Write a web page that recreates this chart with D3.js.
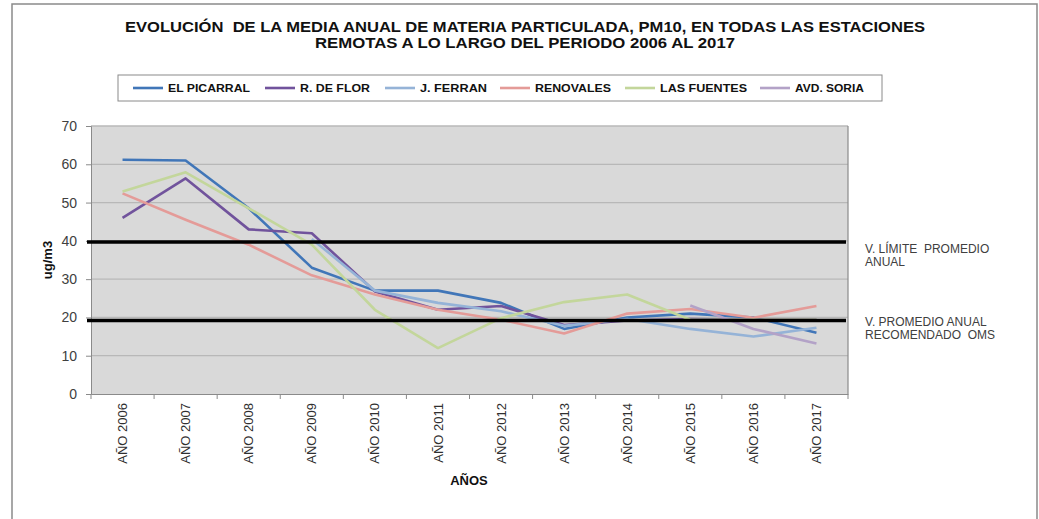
<!DOCTYPE html>
<html>
<head>
<meta charset="utf-8">
<script src="https://cdn.jsdelivr.net/npm/d3@7"></script>
<style>
  body { margin: 0; background: #fff; }
  svg { font-family: "Liberation Sans", Arial, sans-serif; }
  text { white-space: pre; }
</style>
</head>
<body>
<div id="chart"></div>
<script>
// datos
const years = ['AÑO 2006','AÑO 2007','AÑO 2008','AÑO 2009','AÑO 2010','AÑO 2011',
               'AÑO 2012','AÑO 2013','AÑO 2014','AÑO 2015','AÑO 2016','AÑO 2017'];
const stations = ['EL PICARRAL','R. DE FLOR','J. FERRAN','RENOVALES','LAS FUENTES','AVD. SORIA'];
const colors   = ['#4176b8','#71539c','#95b3d7','#e49b98','#c3d69b','#b3a2c7'];

const elPicarral = [61.2, 61, 48.5, 33, 27, 27, 23.8, 17, 20, 21, 20, 16];
const rDeFlor    = [46, 56.3, 43, 42, 26.8, 22, 23, 18, 19.2, 19.6, 19.4, 19.4];
const jFerran    = [null, null, null, 40.5, 27, 23.8, 21.6, 17.8, 19.6, 17, 15, 17.3];
const renovales  = [52.4, 45.5, 39, 31, 26, 22, 19.4, 15.8, 21, 22.2, 19.9, 23];
const lasFuentes = [52.9, 57.9, 48.5, 39, 22, 12, 19.8, 24, 26, 19.4, 19.4, 19.4];
const avdSoria   = [null, null, null, null, null, null, null, null, null, 23.1, 17, 13.2];
const seriesValues = [elPicarral, rDeFlor, jFerran, renovales, lasFuentes, avdSoria];

const yTicks = [0, 10, 20, 30, 40, 50, 60, 70];
// lineas de referencia (valor limite y recomendado OMS)
const refValues = [39.7, 19.2];
const refLabels = [['V. LÍMITE  PROMEDIO', 'ANUAL'], ['V. PROMEDIO ANUAL', 'RECOMENDADO  OMS']];

const width  = 1039;
const height = 519;
const plot   = { left: 91, right: 848, top: 126, bottom: 394 };

const svg = d3.select('#chart').append('svg')
  .attr('width', width)
  .attr('height', height);

// marco exterior
svg.append('rect')
  .attr('x', 12).attr('y', 4)
  .attr('width', 1025).attr('height', 530)
  .attr('fill', '#fff')
  .attr('stroke', '#8a8a8a')
  .attr('stroke-width', 1.5);

const x = d3.scaleBand().domain(years).range([plot.left, plot.right]);
const y = d3.scaleLinear().domain([0, 70]).range([plot.bottom, plot.top]);

// fondo del area de trazado
svg.append('rect')
  .attr('x', plot.left).attr('y', plot.top)
  .attr('width', plot.right - plot.left)
  .attr('height', plot.bottom - plot.top)
  .attr('fill', '#d9d9d9');

// lineas de division
svg.append('g')
  .selectAll('line')
  .data(yTicks.filter(d => d > 0))
  .enter().append('line')
  .attr('x1', plot.left).attr('x2', plot.right)
  .attr('y1', d => y(d)).attr('y2', d => y(d))
  .attr('stroke', '#b8b8b8')
  .attr('stroke-width', 1.3);

// borde derecho
svg.append('line')
  .attr('x1', plot.right).attr('x2', plot.right)
  .attr('y1', plot.top).attr('y2', plot.bottom)
  .attr('stroke', '#8a8a8a').attr('stroke-width', 1.2);

// eje Y
const yAxis = svg.append('g')
  .attr('transform', `translate(${plot.left},0)`)
  .call(d3.axisLeft(y).tickValues(yTicks).tickSize(5).tickPadding(9));
yAxis.select('.domain').attr('stroke', '#8a8a8a');
yAxis.selectAll('.tick line').attr('stroke', '#8a8a8a');
yAxis.selectAll('text')
  .attr('fill', '#404040')
  .style('font-size', '14px');

// eje X
const xAxis = svg.append('g')
  .attr('transform', `translate(0,${plot.bottom})`)
  .call(d3.axisBottom(x).tickSize(0).tickPadding(0));
xAxis.select('.domain').attr('stroke', '#8a8a8a');
xAxis.selectAll('text')
  .attr('fill', '#303030')
  .style('font-size', '13px')
  .attr('text-anchor', 'end')
  .attr('dy', '0.35em')
  .attr('transform', 'translate(0,9) rotate(-90)');

// marcas en los limites de categoria
svg.append('g')
  .selectAll('line')
  .data(years.map(d => x(d)).concat([plot.right]))
  .enter().append('line')
  .attr('x1', d => d).attr('x2', d => d)
  .attr('y1', plot.bottom).attr('y2', plot.bottom + 5)
  .attr('stroke', '#8a8a8a');

// series
const line = d3.line()
  .defined(d => d.v != null)
  .x(d => x(d.year) + x.bandwidth() / 2)
  .y(d => y(d.v));

seriesValues.forEach((vals, i) => {
  const pts = vals.map((v, j) => ({ year: years[j], v: v }));
  svg.append('path')
    .datum(pts)
    .attr('d', line)
    .attr('fill', 'none')
    .attr('stroke', colors[i])
    .attr('stroke-width', 2.6)
    .attr('stroke-linejoin', 'round');
});

// lineas negras de referencia
svg.append('g')
  .selectAll('line')
  .data(refValues)
  .enter().append('line')
  .attr('x1', plot.left - 4).attr('x2', plot.right - 2)
  .attr('y1', d => y(d)).attr('y2', d => y(d))
  .attr('stroke', '#000')
  .attr('stroke-width', 3.6);

// textos de las lineas de referencia
const refLabelY = [253, 326];
refLabels.forEach((lines, i) => {
  const t = svg.append('text')
    .attr('x', 865)
    .attr('y', refLabelY[i])
    .attr('fill', '#404040')
    .style('font-size', '12px');
  lines.forEach((s, k) => {
    t.append('tspan').attr('x', 865).attr('dy', k === 0 ? 0 : 13).text(s);
  });
});

// titulo eje Y
svg.append('text')
  .attr('transform', `translate(52,${(plot.top + plot.bottom) / 2}) rotate(-90)`)
  .attr('text-anchor', 'middle')
  .attr('fill', '#111')
  .style('font-size', '13px')
  .style('font-weight', 'bold')
  .text('ug/m3');

// titulo eje X
svg.append('text')
  .attr('x', 469).attr('y', 485)
  .attr('text-anchor', 'middle')
  .attr('fill', '#111')
  .style('font-size', '13px')
  .style('font-weight', 'bold')
  .text('AÑOS');

// titulo
const titleLines = [
  { text: 'EVOLUCIÓN  DE LA MEDIA ANUAL DE MATERIA PARTICULADA, PM10, EN TODAS LAS ESTACIONES', y: 32, len: 800 },
  { text: 'REMOTAS A LO LARGO DEL PERIODO 2006 AL 2017', y: 48, len: 420 }
];
titleLines.forEach(t => {
  svg.append('text')
    .attr('x', 525 - t.len / 2).attr('y', t.y)
    .attr('textLength', t.len)
    .attr('lengthAdjust', 'spacingAndGlyphs')
    .attr('fill', '#111')
    .style('font-size', '15px')
    .style('font-weight', 'bold')
    .text(t.text);
});

// leyenda
svg.append('rect')
  .attr('x', 118).attr('y', 75)
  .attr('width', 764).attr('height', 26)
  .attr('fill', '#fff')
  .attr('stroke', '#8a8a8a');

const legendX   = [133, 265, 385, 500, 625, 760];
const legendLen = [82, 70, 67, 76, 87, 69];
const legend = svg.append('g')
  .selectAll('g')
  .data(stations)
  .enter().append('g')
  .attr('transform', (d, i) => `translate(${legendX[i]},88)`);
legend.append('line')
  .attr('x1', 0).attr('x2', 30)
  .attr('stroke', (d, i) => colors[i])
  .attr('stroke-width', 2.6);
legend.append('text')
  .attr('x', 35).attr('dy', '0.35em')
  .attr('textLength', (d, i) => legendLen[i])
  .attr('lengthAdjust', 'spacingAndGlyphs')
  .attr('fill', '#111')
  .style('font-size', '10px')
  .style('font-weight', 'bold')
  .text(d => d);
</script>
</body>
</html>
